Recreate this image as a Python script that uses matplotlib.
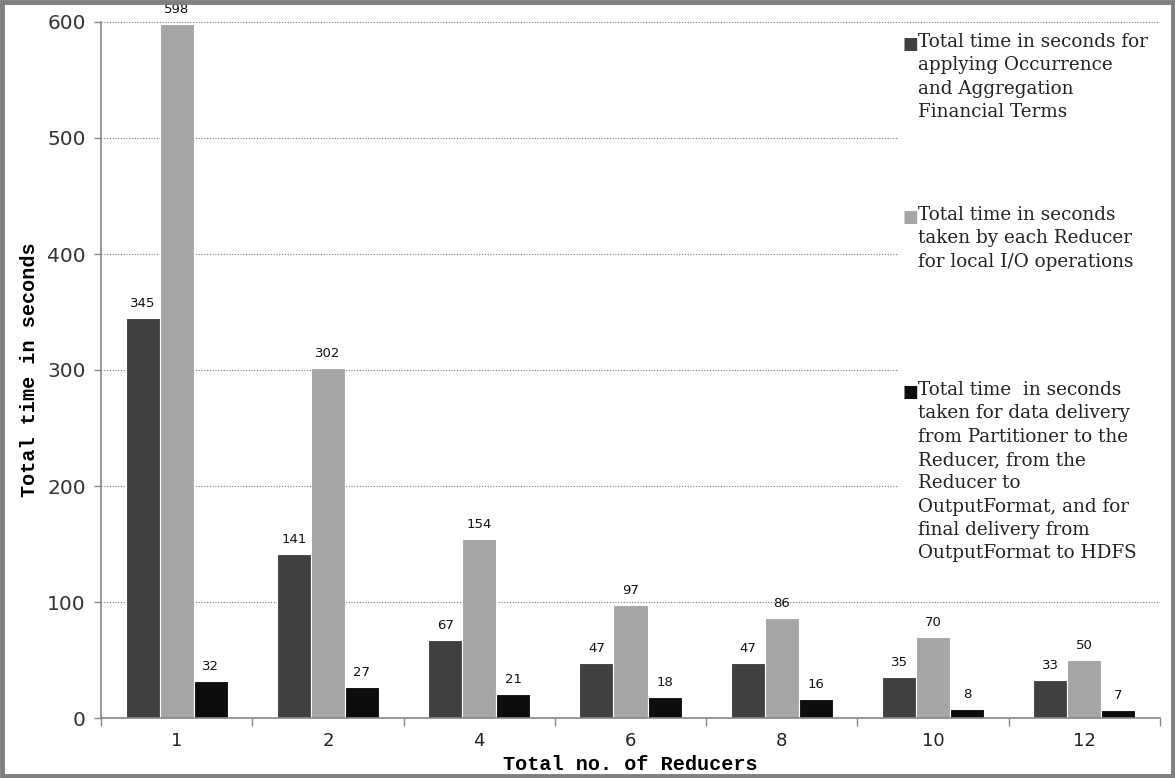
import matplotlib
matplotlib.use('Agg')
import matplotlib.pyplot as plt
from matplotlib.patches import Rectangle
import numpy as np

# data
reducers = ['1', '2', '4', '6', '8', '10', '12']
occurrence_time = [345, 141, 67, 47, 47, 35, 33]
local_io_time = [598, 302, 154, 97, 86, 70, 50]
delivery_time = [32, 27, 21, 18, 16, 8, 7]

legend_labels = [
    'Total time in seconds for\napplying Occurrence\nand Aggregation\nFinancial Terms',
    'Total time in seconds\ntaken by each Reducer\nfor local I/O operations',
    'Total time  in seconds\ntaken for data delivery\nfrom Partitioner to the\nReducer, from the\nReducer to\nOutputFormat, and for\nfinal delivery from\nOutputFormat to HDFS',
]
colors = ['#404040', '#a6a6a6', '#0d0d0d']

fig = plt.figure(figsize=(11.75, 7.78), dpi=100)
ax = fig.add_axes([101 / 1175, 60 / 778, (1160 - 101) / 1175, (718 - 22) / 778])

x = np.arange(len(reducers))
w = 0.225
series = [occurrence_time, local_io_time, delivery_time]
for i, (vals, c) in enumerate(zip(series, colors)):
    pos = x + (i - 1) * w
    ax.bar(pos, vals, w, color=c, edgecolor='white', linewidth=0.8, zorder=2)
    for px, v in zip(pos, vals):
        ax.text(px, v + 7, str(v), ha='center', va='bottom', fontsize=9.5,
                family='DejaVu Sans', color='#111111')

ax.set_ylim(0, 600)
ax.set_xlim(-0.5, len(reducers) - 0.5)
ax.set_yticks(range(0, 601, 100))
ax.tick_params(axis='y', labelsize=14.5, colors='#868686', labelcolor='#333333',
               length=5, width=1, pad=6)
ax.set_xticks(np.arange(-0.5, len(reducers), 1.0))
ax.set_xticklabels([])
ax.set_xticks(x, minor=True)
ax.set_xticklabels(reducers, minor=True, fontsize=13, color='#222222')
ax.tick_params(axis='x', which='major', length=6, width=1, colors='#868686')
ax.tick_params(axis='x', which='minor', length=0, pad=10)

ax.set_axisbelow(True)
ax.yaxis.grid(True, linestyle=(0, (1, 1.5)), color='#777777', linewidth=0.8)
for s in ['top', 'right']:
    ax.spines[s].set_visible(False)
for s in ['left', 'bottom']:
    ax.spines[s].set_color('#868686')
    ax.spines[s].set_linewidth(1.2)

# white legend area covering the gridlines
ax.add_patch(Rectangle((0.754, 0.183), 0.246, 0.805, transform=ax.transAxes,
                       facecolor='white', edgecolor='none', zorder=1))

ax.set_xlabel('Total no. of Reducers', family='Liberation Mono', fontweight='bold',
              fontsize=14.5, labelpad=4)
ax.set_ylabel('Total time in seconds', family='Liberation Mono', fontweight='bold',
              fontsize=14.5, labelpad=6)

# legend entries
legend_tops = [33, 206, 381]
for lab, c, top in zip(legend_labels, colors, legend_tops):
    fig.text(902 / 1175, 1 - (top + 2) / 778, '\u25a0', color=c, fontsize=12,
             family='DejaVu Sans', va='top', ha='left')
    fig.text(918 / 1175, 1 - top / 778, lab, fontsize=13.2, family='DejaVu Serif',
             va='top', ha='left', linespacing=1.38, color='#222222')

# figure border
fig.patches.append(Rectangle((0.0015, 0.002), 0.997, 0.996, transform=fig.transFigure,
                             fill=False, edgecolor='#7f7f7f', linewidth=3.5))

fig.savefig('out.png', dpi=100)
